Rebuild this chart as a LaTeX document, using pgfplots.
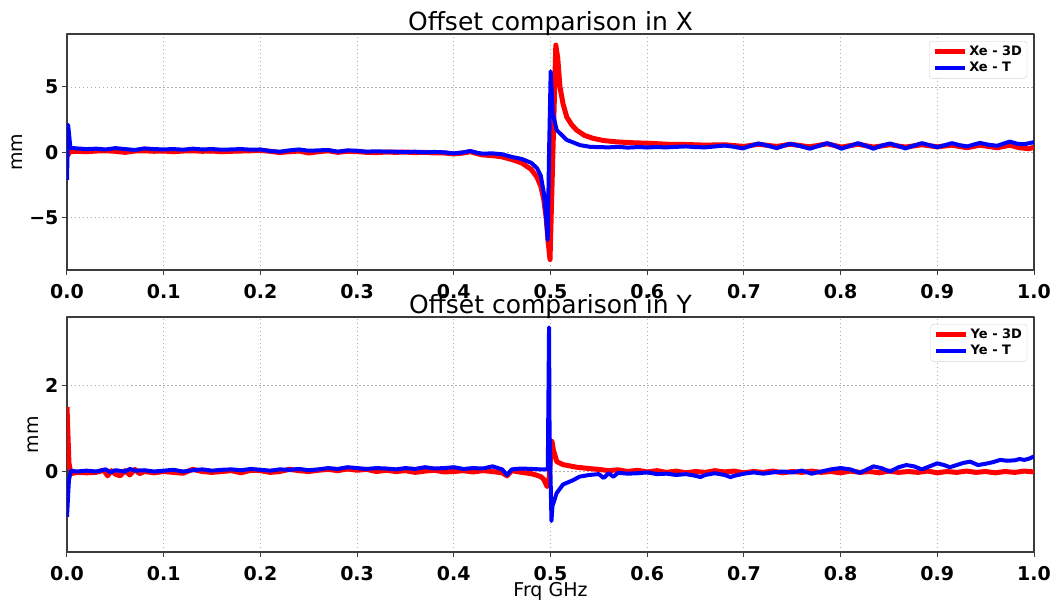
\documentclass[border=0pt]{standalone}
\usepackage{pgfplots}
\pgfplotsset{compat=1.18}
\usepackage{fontspec}
\setmainfont{DejaVu Sans}

\definecolor{gridc}{RGB}{176,176,176}
\definecolor{spine}{RGB}{60,60,60}

\pgfplotsset{
  myaxis/.style={
    scale only axis,
    width=967pt,
    xmin=0, xmax=1,
    xtick={0,0.1,0.2,0.3,0.4,0.5,0.6,0.7,0.8,0.9,1.0},
    xticklabels={0.0,0.1,0.2,0.3,0.4,0.5,0.6,0.7,0.8,0.9,1.0},
    /pgf/number format/assume math mode=true,
    tick label style={font=\fontsize{19}{22}\selectfont\bfseries},
    xticklabel style={anchor=base, yshift=-23pt},
    tick align=outside,
    major tick length=5pt,
    tick style={spine, line width=1pt},
    xtick pos=bottom, ytick pos=left,
    axis line style={spine, line width=1.1pt},
    grid=major,
    major grid style={gridc, line width=0.9pt, dash pattern=on 1.5pt off 2.5pt},
    title style={font=\fontsize{25}{30}\selectfont, at={(0.5,1)}, anchor=base, yshift=-2pt},
    ylabel style={font=\fontsize{19}{22}\selectfont},
    legend cell align=left,
    legend style={at={(0.993,0.97)}, anchor=north east,
      font=\fontsize{13}{16}\selectfont\bfseries,
      draw=black!18, rounded corners=3pt, fill=white, fill opacity=0.8, text opacity=1,
      inner xsep=3pt, inner ysep=3pt, row sep=1pt},
    legend image code/.code={\draw[#1] (0pt,0pt) -- (30pt,0pt);},
    line join=round,
  },
  redl/.style={red, line width=5pt, no marks},
  bluel/.style={blue, line width=4pt, no marks},
}

\begin{document}
\begin{tikzpicture}
\path[use as bounding box] (-67pt,34pt) rectangle (988pt,-571pt);

% ---------------- Top: X ----------------
\begin{axis}[myaxis, at={(0pt,0pt)}, anchor=north west,
  height=236pt, ymin=-9.0, ymax=9.05,
  ytick={-5,0,5}, yticklabels={−5,0,5},
  title={Offset comparison in X}, ylabel={mm}]
\addplot[redl] coordinates {
(0.000,-0.3)(0.003,0.05)(0.01,0.08)(0.02,0.05)(0.03,0.1)(0.04,0.12)(0.05,0.08)(0.06,0.0)(0.07,0.1)(0.08,0.12)
(0.09,0.08)(0.10,0.1)(0.11,0.05)(0.12,0.1)(0.13,0.12)(0.14,0.08)(0.15,0.1)(0.16,0.05)(0.17,0.08)(0.18,0.1)
(0.19,0.12)(0.20,0.15)(0.21,0.08)(0.22,-0.02)(0.23,0.05)(0.24,0.1)(0.25,-0.05)(0.26,0.05)(0.27,0.12)(0.28,0.0)
(0.29,0.08)(0.30,0.05)(0.31,0.0)(0.32,-0.02)(0.33,0.02)(0.34,0.0)(0.35,0.02)(0.36,-0.02)(0.37,0.0)(0.38,-0.05)
(0.39,-0.05)(0.40,-0.12)(0.41,-0.05)(0.417,0.05)(0.425,-0.12)(0.43,-0.2)(0.44,-0.25)(0.45,-0.35)(0.46,-0.55)
(0.47,-0.8)(0.48,-1.3)(0.486,-1.9)(0.49,-2.6)(0.493,-3.6)(0.4955,-5.0)(0.4975,-6.8)(0.4995,-8.2)
(0.5025,0.0)(0.5055,8.2)(0.5075,7.2)(0.5098,5.0)(0.513,3.7)(0.5168,2.7)(0.522,2.1)(0.527,1.7)(0.535,1.3)
(0.544,1.07)(0.555,0.9)(0.5685,0.8)(0.58,0.75)(0.59,0.72)(0.60,0.70)(0.62,0.62)(0.64,0.6)(0.66,0.55)
(0.68,0.58)(0.70,0.45)(0.715,0.62)(0.734,0.45)(0.748,0.62)(0.768,0.42)(0.786,0.65)(0.801,0.40)(0.818,0.62)
(0.834,0.40)(0.851,0.58)(0.867,0.40)(0.884,0.58)(0.900,0.42)(0.915,0.55)(0.931,0.35)(0.944,0.55)(0.962,0.35)
(0.975,0.55)(0.985,0.35)(0.995,0.28)(1.0,0.4)
};
\addlegendentry{Xe - 3D}
\addplot[bluel] coordinates {
(0.0,-2.1)(0.0012,2.1)(0.0035,0.35)(0.01,0.3)(0.02,0.25)(0.03,0.28)(0.04,0.22)(0.05,0.32)(0.06,0.25)(0.07,0.18)
(0.08,0.3)(0.09,0.25)(0.10,0.22)(0.11,0.25)(0.12,0.2)(0.13,0.28)(0.14,0.22)(0.15,0.25)(0.16,0.2)(0.17,0.22)
(0.18,0.25)(0.19,0.2)(0.20,0.22)(0.21,0.1)(0.22,0.05)(0.23,0.15)(0.24,0.22)(0.25,0.12)(0.26,0.15)(0.27,0.18)
(0.28,0.05)(0.29,0.15)(0.30,0.12)(0.31,0.05)(0.32,0.08)(0.33,0.05)(0.34,0.05)(0.35,0.02)(0.36,0.05)(0.37,0.0)
(0.38,0.03)(0.39,0.0)(0.40,-0.08)(0.41,0.0)(0.417,0.1)(0.425,-0.05)(0.43,-0.1)(0.44,-0.08)(0.45,-0.15)
(0.46,-0.35)(0.47,-0.5)(0.48,-0.8)(0.486,-1.2)(0.49,-1.8)(0.4933,-3.2)(0.4955,-5.0)(0.4971,-6.7)
(0.4985,0.0)(0.5002,6.2)(0.5023,3.0)(0.5064,1.7)(0.5168,0.95)(0.5305,0.55)(0.541,0.42)(0.55,0.4)
(0.56,0.38)(0.57,0.42)(0.58,0.36)(0.59,0.4)(0.60,0.38)(0.61,0.40)(0.62,0.38)(0.63,0.42)(0.64,0.45)(0.65,0.40)
(0.66,0.38)(0.67,0.45)(0.68,0.52)(0.69,0.42)(0.699,0.30)(0.707,0.50)(0.715,0.68)(0.725,0.50)(0.734,0.32)
(0.741,0.50)(0.748,0.65)(0.758,0.48)(0.768,0.28)(0.777,0.48)(0.786,0.70)(0.794,0.50)(0.801,0.28)(0.810,0.50)
(0.818,0.70)(0.826,0.50)(0.834,0.28)(0.842,0.50)(0.851,0.68)(0.859,0.50)(0.867,0.30)(0.875,0.50)(0.884,0.70)
(0.892,0.55)(0.900,0.40)(0.908,0.55)(0.915,0.70)(0.923,0.55)(0.931,0.45)(0.938,0.60)(0.944,0.72)(0.953,0.58)
(0.962,0.50)(0.969,0.68)(0.975,0.82)(0.983,0.65)(0.990,0.62)(0.995,0.70)(1.000,0.78)
};
\addlegendentry{Xe - T}
\end{axis}

% ---------------- Bottom: Y ----------------
\begin{axis}[myaxis, at={(0pt,-283pt)}, anchor=north west,
  height=235pt, ymin=-1.87, ymax=3.59,
  ytick={0,2}, yticklabels={0,2},
  title={Offset comparison in Y}, ylabel={mm},
  xlabel={Frq GHz},
  xlabel style={font=\fontsize{19}{22}\selectfont, at={(axis description cs:0.5,0)}, anchor=base, yshift=-44pt}]
\addplot[redl] coordinates {
(0.000,1.5)(0.002,0.2)(0.004,-0.05)(0.01,-0.02)(0.02,-0.03)(0.03,-0.02)(0.038,0.03)(0.042,-0.1)(0.046,0.02)
(0.05,-0.06)(0.055,-0.1)(0.06,0.02)(0.065,-0.08)(0.07,0.05)(0.075,-0.05)(0.08,0.0)(0.09,-0.03)(0.10,0.0)
(0.11,-0.02)(0.12,-0.04)(0.13,0.05)(0.14,0.0)(0.15,-0.02)(0.16,0.0)(0.17,0.02)(0.18,-0.03)(0.19,0.03)(0.20,0.02)
(0.21,-0.02)(0.22,0.0)(0.23,0.05)(0.24,0.02)(0.25,0.0)(0.26,0.03)(0.27,0.05)(0.28,0.02)(0.29,0.06)(0.30,0.03)
(0.31,0.05)(0.32,0.0)(0.33,0.03)(0.34,0.0)(0.35,0.02)(0.36,-0.02)(0.37,0.01)(0.38,0.03)(0.39,-0.01)(0.40,0.0)
(0.41,0.02)(0.42,-0.01)(0.43,0.02)(0.44,0.0)(0.45,-0.03)(0.455,-0.1)(0.46,0.02)(0.47,-0.02)(0.48,-0.05)
(0.485,-0.08)(0.49,-0.12)(0.493,-0.18)(0.4965,-0.35)(0.4985,-0.2)(0.500,0.3)(0.5015,0.7)(0.503,0.5)
(0.5065,0.23)(0.513,0.16)(0.527,0.1)(0.544,0.06)(0.55,0.05)(0.56,0.02)(0.57,0.04)(0.58,0.0)(0.59,0.03)
(0.60,-0.01)(0.61,0.02)(0.62,-0.02)(0.63,0.01)(0.64,-0.03)(0.65,0.0)(0.66,-0.02)(0.67,0.02)(0.68,-0.01)
(0.69,0.01)(0.70,-0.03)(0.71,0.0)(0.72,-0.02)(0.73,0.01)(0.74,-0.03)(0.75,0.0)(0.76,-0.02)(0.77,0.01)
(0.78,-0.02)(0.79,0.0)(0.80,-0.03)(0.81,0.01)(0.82,-0.02)(0.83,0.0)(0.84,-0.03)(0.85,0.01)(0.86,-0.02)
(0.87,0.0)(0.88,-0.02)(0.89,0.01)(0.90,-0.03)(0.91,0.0)(0.92,-0.02)(0.93,0.01)(0.94,-0.02)(0.95,0.0)
(0.96,-0.03)(0.97,0.0)(0.98,-0.02)(0.99,0.01)(1.0,-0.01)
};
\addlegendentry{Ye - 3D}
\addplot[bluel] coordinates {
(0.000,-1.05)(0.002,-0.2)(0.004,0.02)(0.01,0.0)(0.02,0.02)(0.03,0.0)(0.04,0.05)(0.045,-0.02)(0.05,0.03)
(0.06,0.0)(0.065,0.06)(0.07,0.02)(0.08,0.03)(0.09,0.0)(0.10,0.02)(0.11,0.04)(0.12,0.0)(0.13,0.03)(0.14,0.05)
(0.15,0.02)(0.16,0.04)(0.17,0.05)(0.18,0.03)(0.19,0.06)(0.20,0.04)(0.21,0.02)(0.22,0.05)(0.23,0.04)(0.24,0.06)
(0.25,0.03)(0.26,0.05)(0.27,0.08)(0.28,0.06)(0.29,0.1)(0.30,0.08)(0.31,0.06)(0.32,0.08)(0.33,0.07)(0.34,0.05)
(0.35,0.08)(0.36,0.06)(0.37,0.1)(0.38,0.07)(0.39,0.08)(0.40,0.1)(0.41,0.06)(0.42,0.08)(0.43,0.07)(0.44,0.12)
(0.45,0.05)(0.455,-0.08)(0.46,0.05)(0.47,0.07)(0.48,0.06)(0.49,0.05)(0.495,0.05)(0.4972,0.05)(0.4985,3.35)
(0.499,1.0)(0.501,-1.15)(0.502,-0.8)(0.5064,-0.5)(0.513,-0.3)(0.5235,-0.2)(0.53,-0.12)(0.54,-0.08)(0.55,-0.06)
(0.555,-0.15)(0.56,-0.04)(0.565,-0.12)(0.57,-0.03)(0.58,-0.05)(0.59,-0.04)(0.60,-0.02)(0.61,-0.06)(0.62,-0.05)
(0.63,-0.08)(0.64,-0.06)(0.65,-0.1)(0.655,-0.13)(0.66,-0.08)(0.67,-0.04)(0.68,-0.08)(0.686,-0.13)(0.69,-0.1)
(0.70,-0.05)(0.71,-0.02)(0.72,-0.05)(0.73,-0.02)(0.74,0.0)(0.75,-0.02)(0.76,0.02)(0.77,-0.05)(0.78,0.0)
(0.79,0.05)(0.80,0.08)(0.81,0.05)(0.82,-0.03)(0.834,0.12)(0.842,0.08)(0.851,0.0)(0.86,0.1)(0.868,0.15)
(0.876,0.12)(0.884,0.05)(0.892,0.12)(0.900,0.19)(0.907,0.15)(0.913,0.1)(0.92,0.15)(0.927,0.2)(0.934,0.23)
(0.942,0.15)(0.95,0.18)(0.958,0.22)(0.965,0.27)(0.972,0.25)(0.98,0.26)(0.985,0.29)(0.99,0.27)(0.995,0.3)(1.0,0.35)
};
\addlegendentry{Ye - T}
\end{axis}
\end{tikzpicture}
\end{document}
